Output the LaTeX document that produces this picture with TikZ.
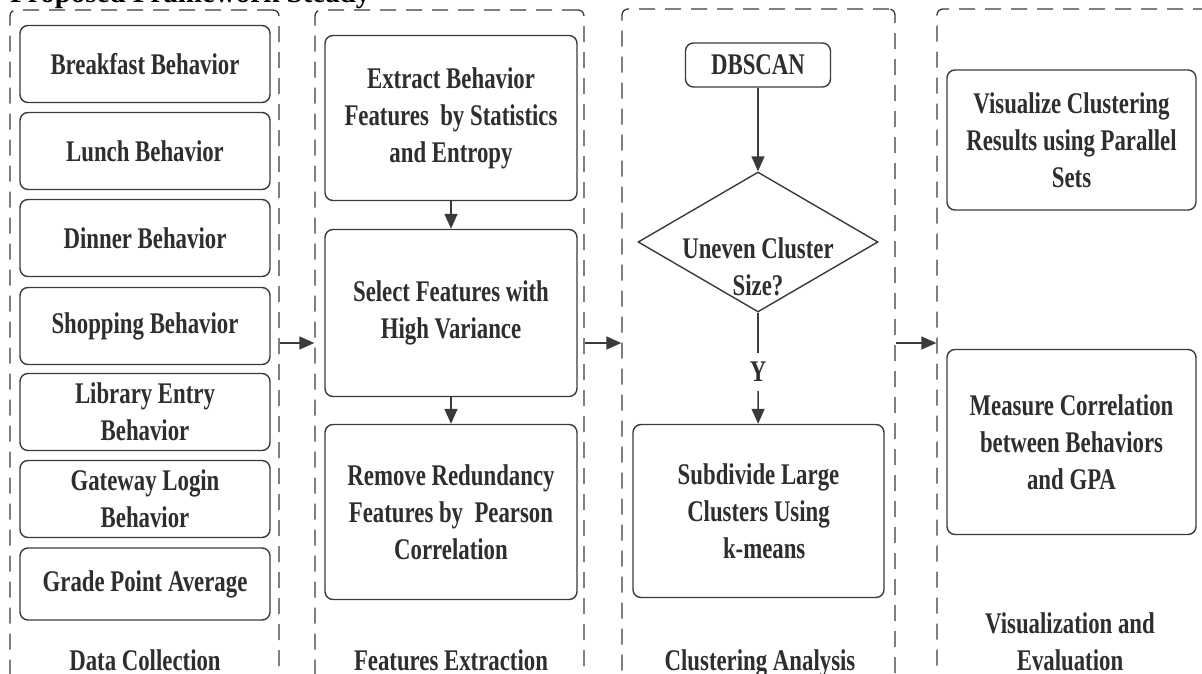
\documentclass[tikz,border=0pt]{standalone}
\usepackage{fontspec}
\setmainfont{Liberation Serif}[FakeStretch=0.76]
\newfontfamily\titlefam{Liberation Serif}
\usetikzlibrary{shapes.geometric,arrows.meta}
\pgfdeclarelayer{bg}
\pgfsetlayers{bg,main}
\definecolor{inkgray}{HTML}{2E2E2E}
\definecolor{linegray}{HTML}{3A3A3A}
\tikzset{
    every node/.style={font=\fontsize{30}{37}\selectfont\bfseries, text=inkgray, align=center},
    stepbox/.style={rectangle, rounded corners=8pt, draw=linegray, line width=1.4pt, inner sep=0pt, minimum width=250pt},
    decbox/.style={diamond, draw=linegray, line width=1.4pt, inner sep=0pt, minimum width=240pt, minimum height=140pt},
    groupbox/.style={rectangle, rounded corners=6pt, draw=linegray, line width=1.3pt, dash pattern=on 16pt off 10pt, inner sep=0pt, minimum height=690pt},
    grouplabel/.style={anchor=base, inner sep=0pt},
    flow/.style={draw=linegray, line width=1.5pt, -{Triangle[length=15pt, width=13pt]}},
    plainline/.style={draw=linegray, line width=1.5pt}
}

\begin{document}
\begin{tikzpicture}[x=1pt, y=-1pt]
    \useasboundingbox (0, 0) rectangle (1202, 674);

    \node (title) [anchor=base west, inner sep=0pt, font=\titlefam\fontsize{29}{34}\selectfont\bfseries, text=black] at (10, 3) {Proposed Framework Steady};

    \node (datacol) [groupbox, minimum width=269pt] at (144.5, 355) {};
    \node (featcol) [groupbox, minimum width=269pt] at (449.5, 355) {};
    \node (clustcol) [groupbox, minimum width=273pt] at (758.5, 354) {};
    \node (viscol) [groupbox, minimum width=278pt] at (1076, 354) {};

    \node (breakfast) [stepbox, minimum height=77pt] at (145, 64) {Breakfast Behavior};
    \node (lunch) [stepbox, minimum height=77pt] at (145, 151) {Lunch Behavior};
    \node (dinner) [stepbox, minimum height=77pt] at (145, 238) {Dinner Behavior};
    \node (shopping) [stepbox, minimum height=77pt] at (145, 326) {Shopping Behavior};
    \node (library) [stepbox, minimum height=77pt] at (145, 412) {Library Entry\\Behavior};
    \node (gateway) [stepbox, minimum height=77pt] at (145, 499) {Gateway Login\\Behavior};
    \node (gpa) [stepbox, minimum height=72pt] at (145, 584) {Grade Point Average};

    \node (extract) [stepbox, minimum width=252pt, minimum height=165pt] at (451, 118) {Extract Behavior\\Features\ \ by Statistics\\and Entropy};
    \node (select) [stepbox, minimum width=252pt, minimum height=167pt] at (451, 313) {Select Features with\\High Variance};
    \node (remove) [stepbox, minimum width=252pt, minimum height=175pt] at (451, 512) {Remove Redundancy\\Features by\ \ Pearson\\Correlation};

    \node (dbscan) [stepbox, minimum width=145pt, minimum height=44pt] at (758, 65) {DBSCAN};
    \node (uneven) [decbox] at (758, 242) {};
    \node (uneventext) at (758, 267) {Uneven Cluster\\Size?};
    \node (yes) [inner sep=9pt] at (758, 372) {Y};
    \node (subdivide) [stepbox, minimum width=251pt, minimum height=173pt] at (758.5, 511) {Subdivide Large\\Clusters Using\\\ \ k-means};

    \node (visualize) [stepbox, minimum width=249pt, minimum height=140pt] at (1071.5, 140) {Visualize Clustering\\Results using Parallel\\Sets};
    \node (measure) [stepbox, minimum width=249pt, minimum height=185pt] at (1071.5, 442) {Measure Correlation\\between Behaviors\\and GPA};

    \node (datalabel) [grouplabel] at (145, 670) {Data Collection};
    \node (featlabel) [grouplabel] at (451, 670) {Features Extraction};
    \node (clustlabel) [grouplabel] at (760, 670) {Clustering Analysis};
    \node (vislabel) [grouplabel] at (1070, 670) {Visualization and\\Evaluation};

    \coordinate (midrow) at (0, 343);

    \begin{pgfonlayer}{bg}
        \draw[flow] (extract) -- (select);
        \draw[flow] (select) -- (remove);
        \draw[flow] (dbscan) -- (uneven.north);
        \draw[plainline] (uneven.south) -- (yes.north);
        \draw[flow] (yes.south) -- (subdivide);
        \draw[flow] (datacol.east |- midrow) -- (featcol.west |- midrow);
        \draw[flow] (featcol.east |- midrow) -- (clustcol.west |- midrow);
        \draw[flow] (clustcol.east |- midrow) -- (viscol.west |- midrow);
    \end{pgfonlayer}
\end{tikzpicture}
\end{document}
